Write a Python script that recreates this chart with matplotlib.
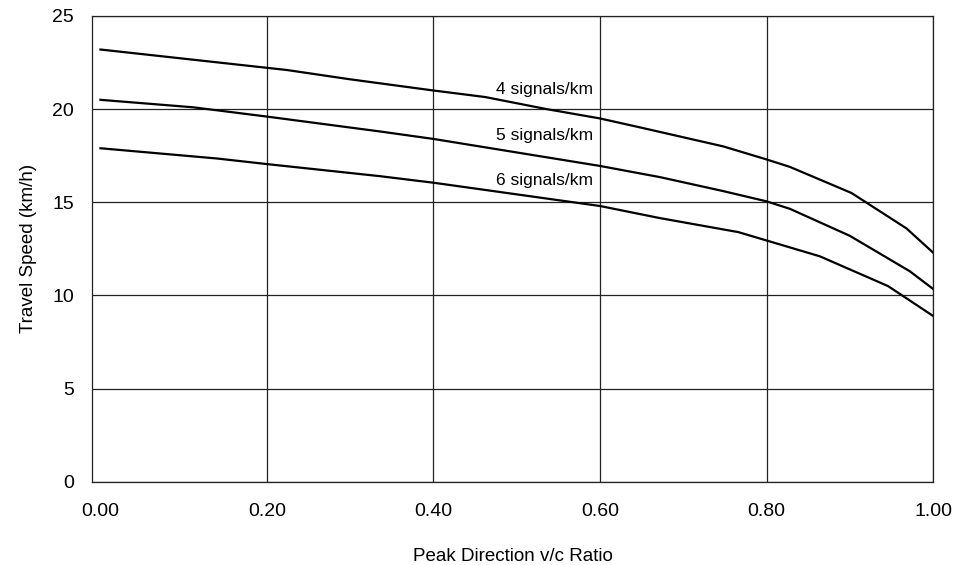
import matplotlib
matplotlib.use("Agg")
import matplotlib.pyplot as plt

# font close to the face of the reference
plt.rcParams['font.family'] = ['Liberation Sans', 'DejaVu Sans']

# v/c ratio and travel speed (km/h)
vc_4 = [0.0, 0.224, 0.30, 0.40, 0.462, 0.536, 0.60, 0.65, 0.748, 0.80, 0.828, 0.902, 0.968, 1.0]
speed_4 = [23.2, 22.1, 21.6, 21.0, 20.65, 20.0, 19.5, 19.0, 18.0, 17.3, 16.9, 15.5, 13.6, 12.3]

vc_5 = [0.0, 0.111, 0.20, 0.336, 0.40, 0.60, 0.672, 0.748, 0.80, 0.828, 0.90, 0.972, 1.0]
speed_5 = [20.5, 20.1, 19.6, 18.8, 18.4, 16.95, 16.35, 15.6, 15.05, 14.65, 13.2, 11.3, 10.35]

vc_6 = [0.0, 0.14, 0.20, 0.336, 0.40, 0.60, 0.672, 0.766, 0.80, 0.864, 0.946, 1.0]
speed_6 = [17.9, 17.35, 17.05, 16.4, 16.05, 14.8, 14.15, 13.4, 12.95, 12.1, 10.5, 8.9]

labels = ['4 signals/km', '5 signals/km', '6 signals/km']
label_y = [21.05, 18.6, 16.15]

x_ticks = [0.0, 0.2, 0.4, 0.6, 0.8, 1.0]
y_ticks = [0, 5, 10, 15, 20, 25]

fig = plt.figure(figsize=(9.56, 5.65), dpi=100)
ax = fig.add_axes([0.0962, 0.1474, 0.8798, 0.8243])

# one line per signal density
ax.plot(vc_4, speed_4, color='black', lw=1.6)
ax.plot(vc_5, speed_5, color='black', lw=1.6)
ax.plot(vc_6, speed_6, color='black', lw=1.6)

# curve labels, right aligned just left of the 0.60 gridline
for text, y in zip(labels, label_y):
    ax.text(0.592, y, text, ha='right', va='center', fontsize=12.5)

ax.set_xlim(-0.0102, 1.0)
ax.set_ylim(0, 25)
ax.set_xticks(x_ticks)
ax.set_xticklabels(['%.2f' % v for v in x_ticks])
ax.set_yticks(y_ticks)
ax.grid(True, color='#222222', lw=0.9)
ax.set_axisbelow(True)
# no gridline at 0.00, the left spine stands in for it
ax.xaxis.get_gridlines()[0].set_visible(False)
ax.tick_params(length=0, labelsize=14)
ax.tick_params(axis='x', pad=15.5)
ax.tick_params(axis='y', pad=13)
for side in ['left', 'right', 'top', 'bottom']:
    ax.spines[side].set_color('#222222')
    ax.spines[side].set_linewidth(0.9)

ax.set_xlabel('Peak Direction v/c Ratio', fontsize=13.5, labelpad=20)
ax.set_ylabel('Travel Speed (km/h)', fontsize=13.5, labelpad=11)

plt.savefig("out.png", dpi=100)
